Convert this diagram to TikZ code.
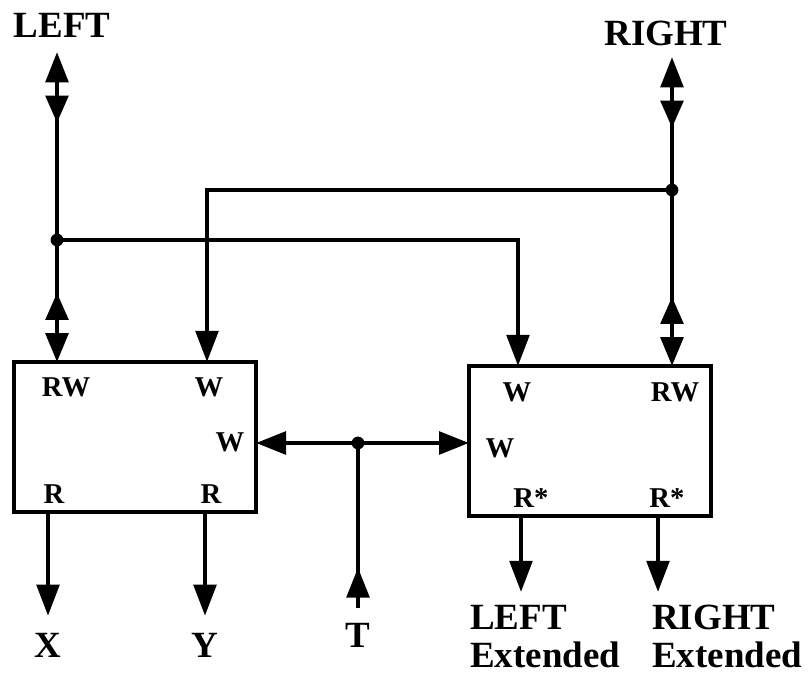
\documentclass[tikz,border=0pt]{standalone}
\usepackage{fontspec}
\setmainfont{Liberation Serif}
\usetikzlibrary{arrows.meta, positioning, decorations.markings}

\tikzset{
	unit/.style={draw, line width=3.4pt, inner sep=0pt, outer sep=0pt},
	sig/.style={line width=3.2pt},
	feed/.style={sig, -{Triangle[length=0.78cm,width=0.56cm]}},
	twoway/.style={sig, {Triangle[length=0.75cm,width=0.56cm]}-{Triangle[length=0.75cm,width=0.56cm]}},
	bus/.style={sig, {Triangle[length=0.76cm,width=0.56cm]Triangle[length=0.68cm,width=0.56cm,reversed,sep=0.33cm]}-{Triangle[length=0.68cm,width=0.56cm,reversed,sep=0.33cm]Triangle[length=0.72cm,width=0.56cm]}},
	port/.style={font=\fontsize{20.4}{21}\selectfont\bfseries, inner sep=0pt},
	tag/.style={font=\fontsize{26.3}{27}\selectfont\bfseries, inner sep=0pt},
}

\begin{document}
\begin{tikzpicture}
	\useasboundingbox (0,0) rectangle (20.225,-16.925);

	% the two units
	\node[unit, minimum width=6.05cm, minimum height=3.75cm] (lu) at (3.375,-10.925) {};
	\node[unit, minimum width=6.05cm, minimum height=3.75cm] (ru) at (14.75,-11.025) {};

	% port labels
	\node[port] (lRW) at (1.65,-9.69) {RW};
	\node[port] (lW1) at (5.225,-9.69) {W};
	\node[port] (lW2) at (5.75,-11.05) {W};
	\node[port] (lR1) at (1.35,-12.35) {R};
	\node[port] (lR2) at (5.275,-12.35) {R};
	\node[port] (rW1) at (12.925,-9.8) {W};
	\node[port] (rRW) at (16.875,-9.8) {RW};
	\node[port] (rW2) at (12.5,-11.2) {W};
	\node[port] (rR1) at (13.275,-12.45) {R*};
	\node[port] (rR2) at (16.675,-12.45) {R*};

	% outside names
	\node[tag] (lft) at (1.55,-0.625) {LEFT};
	\node[tag] (rgt) at (16.65,-0.84) {RIGHT};
	\node[tag] (X) at (1.2,-16.125) {X};
	\node[tag] (Y) at (5.125,-16.125) {Y};
	\node[tag] (T) at (8.95,-15.875) {T};
	\node[tag, align=left, anchor=north west] (lext) at (11.75,-15.125) {LEFT\\Extended};
	\node[tag, align=left, anchor=north west] (rext) at (16.3,-15.125) {RIGHT\\Extended};

	\coordinate (lbus) at (1.425,-1.3);
	\coordinate (rbus) at (16.8,-1.425);
	\coordinate (jl) at (1.425,-6.0);
	\coordinate (jr) at (16.8,-4.75);
	\coordinate (jt) at (8.95,-11.075);
	\coordinate (lx) at (13.025,-14.8);
	\coordinate (rx) at (16.45,-14.8);

	% the two buses
	\draw[sig, shorten <=0.3cm, shorten >=0.3cm] (lbus) -- (lbus |- lu.north);
	\draw[bus] (lbus) -- (lbus |- lu.north);
	\draw[sig, shorten <=0.3cm, shorten >=0.3cm] (rbus) -- (rbus |- ru.north);
	\draw[bus] (rbus) -- (rbus |- ru.north);

	% cross writes
	\draw[feed] (jl) -| ([xshift=1.225cm]ru.north west);
	\draw[feed] (jr) -| ([xshift=4.825cm]lu.north west);
	\fill (jl) circle (0.16);
	\fill (jr) circle (0.16);

	% T feeds both units
	\draw[twoway] (jt -| lu.east) -- (jt -| ru.west);
	\draw[sig, decoration={markings, mark=at position 1cm with {\arrow{Triangle[length=0.75cm,width=0.56cm]}}}, postaction={decorate}] ([yshift=0.375cm]T.north) -- (jt);
	\fill (jt) circle (0.16);

	% outputs
	\draw[feed, shorten >=0.42cm] (X |- lu.south) -- (X.north);
	\draw[feed, shorten >=0.42cm] (Y |- lu.south) -- (Y.north);
	\draw[feed] (lx |- ru.south) -- (lx);
	\draw[feed] (rx |- ru.south) -- (rx);
\end{tikzpicture}
\end{document}
